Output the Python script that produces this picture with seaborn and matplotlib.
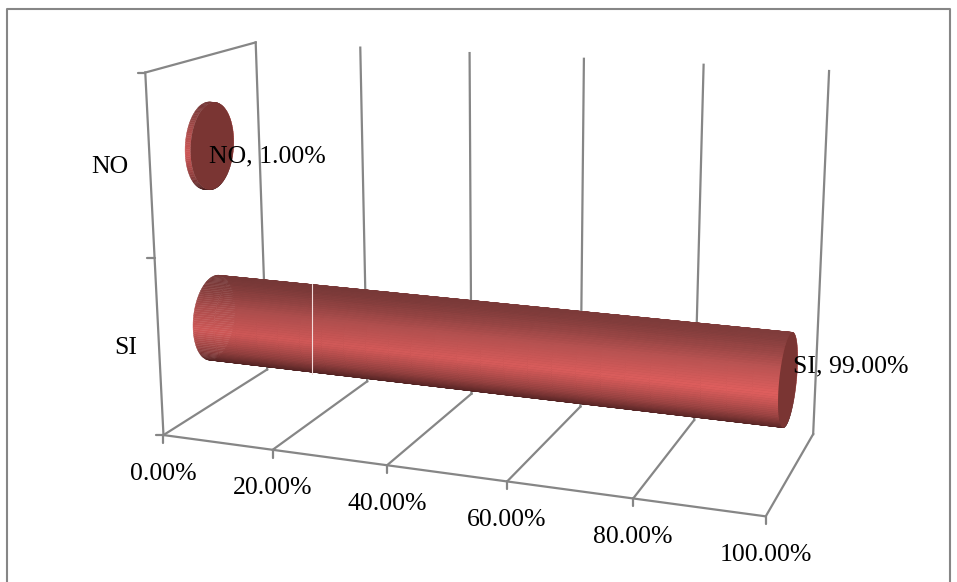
import numpy as np
import pandas as pd
import matplotlib
matplotlib.use("Agg")
import matplotlib.pyplot as plt
from matplotlib.collections import PolyCollection
from matplotlib.colors import to_rgb
import seaborn as sns

# Chart values
categories = ["SI", "NO"]
values = [99.0, 1.0]
value_ticks = [0, 20, 40, 60, 80, 100]
tick_labels = ["0.00%", "20.00%", "40.00%", "60.00%", "80.00%", "100.00%"]
data = pd.DataFrame({"respuesta": categories, "porcentaje": values})

sns.set_theme(style="white")
plt.rcParams["font.family"] = ["Liberation Serif", "DejaVu Serif"]

W, H = 957, 582
fig = plt.figure(figsize=(W / 100, H / 100), dpi=100, facecolor="white")
ax = fig.add_axes([0, 0, 1, 1])
ax.set_xlim(0, W)
ax.set_ylim(H, 0)
ax.axis("off")

GRID = "#868686"
CAP = "#7a3533"
FONT = 18.5

# Camera fitted to the corners of the chart box: (value, depth, height) -> screen
box_corners = np.array([
    [0, 0, 0, 163.5, 434.5],
    [1, 0, 0, 766.0, 516.5],
    [0, 1, 0, 267.0, 370.0],
    [1, 1, 0, 813.0, 434.0],
    [0, 0, 1, 145.0, 73.0],
    [0, 1, 1, 256.0, 42.0],
    [1, 1, 1, 829.0, 71.0],
])


def fit_camera(rows):
    eqs = []
    for u, v, w, x, y in rows:
        p = [u, v, w, 1]
        eqs.append(p + [0, 0, 0, 0] + [-x * c for c in p])
        eqs.append([0, 0, 0, 0] + p + [-y * c for c in p])
    return np.linalg.svd(np.array(eqs))[2][-1].reshape(3, 4)


CAMERA = fit_camera(box_corners)


def project(u, v, w):
    u, v, w = np.broadcast_arrays(np.asarray(u, float), np.asarray(v, float), np.asarray(w, float))
    pts = CAMERA @ np.stack([u.ravel(), v.ravel(), w.ravel(), np.ones(u.size)])
    return (pts[0] / pts[2]).reshape(u.shape), (pts[1] / pts[2]).reshape(u.shape)


def wire(a, b, lw=1.6):
    x, y = project(*np.array([a, b]).T)
    ax.plot(x, y, color=GRID, lw=lw, solid_capstyle="projecting", zorder=1)


# Walls, floor and tick marks
for t, label in zip(value_ticks, tick_labels):
    u = t / 100
    wire((u, 0, 0), (u, 1, 0))
    wire((u, 1, 0), (u, 1, 1))
    fx, fy = project(u, 0, 0)
    ax.plot([fx, fx], [fy, fy + 8], color=GRID, lw=1.6, zorder=1)
    ax.text(fx, fy + 38.5, label, ha="center", va="center", fontsize=FONT, color="black")
wire((0, 0, 0), (1, 0, 0))
wire((0, 0, 0), (0, 0, 1))
wire((0, 0, 1), (0, 1, 1))
for w in (0, 0.5, 1):
    x, y = project(0, 0, w)
    ax.plot([x - 7.5, x], [y, y], color=GRID, lw=1.6, zorder=1)

# Category labels sit left of the front wall edge
for i, cat in enumerate(categories):
    x, y = project(0, 0, (i + 0.5) / len(categories))
    ax.text(x - 22, y, cat, ha="right", va="center", fontsize=FONT, color="black")

# Cylinder shading from the underside to the top
shade = sns.blend_palette(["#451d1d", "#9a4342", "#d95c5b", "#b55150", "#7b3a39"], 121)
R_DEPTH, R_HEIGHT = 0.2, 0.122


def draw_cylinder(value, slot):
    u_end = value / 100
    w0 = (slot + 0.5) / len(categories)
    th = np.linspace(0, 2 * np.pi, 121)
    v = 0.5 + R_DEPTH * np.cos(th)
    w = w0 + R_HEIGHT * np.sin(th)
    polys, colors = [], []
    order = np.argsort(-(v[:-1] + v[1:]))
    u_edges = np.linspace(0, u_end, max(2, int(value / 4) + 2))
    for j in order:
        tone = np.array(shade[int(round(60 + 60 * np.sin(th[j] + np.pi / 120)))])
        for a, b in zip(u_edges[:-1], u_edges[1:]):
            xs, ys = project([a, b, b, a], [v[j], v[j], v[j + 1], v[j + 1]], [w[j], w[j], w[j + 1], w[j + 1]])
            polys.append(np.column_stack([xs, ys]))
            colors.append(np.clip(tone * (0.95 + 0.09 * a), 0, 1))
    ax.add_collection(PolyCollection(polys, facecolors=colors, edgecolors=colors, linewidths=0.3, zorder=2))
    xs, ys = project(u_end, v, w)
    ax.fill(xs, ys, color=CAP, lw=0, zorder=3)


for slot, row in data.iterrows():
    draw_cylinder(row["porcentaje"], slot)

# Light seam across the long cylinder
ax.plot([311.5, 311.5], [284, 374], color="#f3dcdc", lw=0.8, zorder=4)

# Value labels
ax.text(209, 156, f"NO, {values[1]:.2f}%", ha="left", va="center", fontsize=FONT, color="black", zorder=5)
ax.text(793, 366, f"SI, {values[0]:.2f}%", ha="left", va="center", fontsize=FONT, color="black", zorder=5)

# Outer chart frame
ax.plot([6.5, 6.5, 949.5, 949.5], [H, 8.5, 8.5, H], color=GRID, lw=1.5, zorder=1)

fig.savefig("out.png", dpi=100)
